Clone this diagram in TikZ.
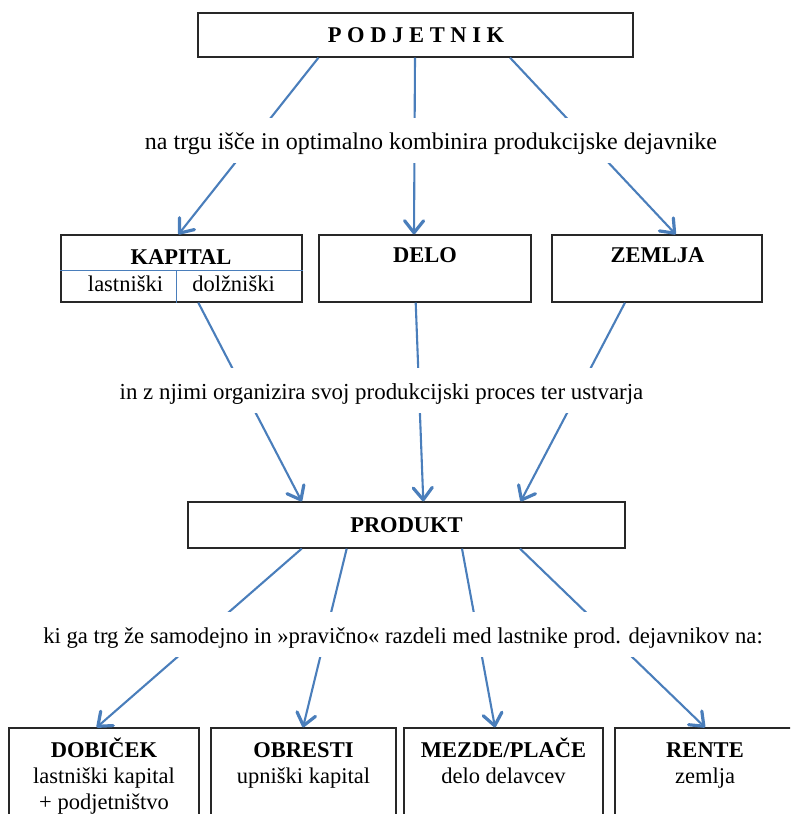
\documentclass[tikz,border=0pt]{standalone}
\usepackage{fontspec}
\setmainfont{Liberation Serif}
\usetikzlibrary{arrows.meta}
\definecolor{arrowblue}{RGB}{74,126,187}
\definecolor{boxline}{RGB}{40,40,40}
\begin{document}
\begin{tikzpicture}[x=1pt,y=-1pt,
  box/.style={draw=boxline,line width=1.3pt,inner sep=0pt},
  conn/.style={draw=arrowblue,line width=2.1pt,-{Straight Barb[length=12pt,width=19pt,line width=3.2pt,round]}},
  divider/.style={draw=arrowblue,line width=1.3pt},
  bt/.style={font=\fontsize{22.5}{27}\selectfont\bfseries,anchor=base,inner sep=0pt},
  nt/.style={font=\fontsize{22.5}{27}\selectfont,anchor=base,inner sep=0pt},
  lt/.style={anchor=base,fill=white,inner xsep=2pt,inner ysep=0pt,text height=31pt,text depth=14pt}]
\useasboundingbox (0,0) rectangle (790,814);
\clip (0,0) rectangle (790,814);
% boxes
\node[box,minimum width=435pt,minimum height=44pt] (podj) at (415.5,35) {};
\node[box,minimum width=241pt,minimum height=67pt] (kap) at (181.5,268.5) {};
\node[box,minimum width=212pt,minimum height=67pt] (delo) at (425,268.5) {};
\node[box,minimum width=210pt,minimum height=67pt] (zem) at (657,268.5) {};
\node[box,minimum width=437pt,minimum height=46pt] (prod) at (406.5,525) {};
\node[box,minimum width=190pt,minimum height=112pt] (dob) at (104,784) {};
\node[box,minimum width=185pt,minimum height=112pt] (obr) at (303.5,784) {};
\node[box,minimum width=199pt,minimum height=112pt] (mez) at (503.5,784) {};
\node[box,minimum width=180pt,minimum height=112pt] (ren) at (705,784) {};
% KAPITAL dividers
\draw[divider] ([yshift=-36pt]kap.north west) -- ([yshift=-36pt]kap.north east);
\draw[divider] ([xshift=116pt]kap.south west) -- ([xshift=116pt,yshift=-36pt]kap.north west);
% connectors
\draw[conn] ([xshift=-97pt]podj.south) -- ([xshift=-3pt]kap.north);
\draw[conn] ([xshift=-0.5pt]podj.south) -- ([xshift=-11pt]delo.north);
\draw[conn] ([xshift=94.5pt]podj.south) -- ([xshift=18.7pt]zem.north);
\draw[conn] ([xshift=16.8pt]kap.south) -- ([xshift=-104.8pt]prod.north);
\draw[conn] ([xshift=-9.3pt]delo.south) -- ([xshift=16.8pt]prod.north);
\draw[conn] ([xshift=-32pt]zem.south) -- ([xshift=114.2pt]prod.north);
\draw[conn] ([xshift=-104.8pt]prod.south) -- ([xshift=-7.3pt]dob.north);
\draw[conn] ([xshift=-59.8pt]prod.south) -- ([xshift=-0.5pt]obr.north);
\draw[conn] ([xshift=55.5pt]prod.south) -- ([xshift=-8.5pt]mez.north);
\draw[conn] ([xshift=113.5pt]prod.south) -- (ren.north);
% line texts
\node[lt,font=\fontsize{24}{28}\selectfont] (l1) at (431,149) {na trgu išče in optimalno kombinira produkcijske dejavnike};
\node[lt,font=\fontsize{22.9}{28}\selectfont] (l2) at (381.5,399) {in z njimi organizira svoj produkcijski proces ter ustvarja};
\node[lt,font=\fontsize{22.7}{28}\selectfont] (l3) at (403,643) {ki ga trg že samodejno in »pravično« razdeli med lastnike prod. dejavnikov na:};
% box texts
\node[bt] (tpodj) at (416,42) {P O D J E T N I K};
\node[bt] (tkap) at (181,264) {KAPITAL};
\node[nt] (tlast) at (125.5,291) {lastniški};
\node[nt] (tdolz) at (233.5,291) {dolžniški};
\node[bt] (tdelo) at (425,262) {DELO};
\node[bt] (tzem) at (657.5,262) {ZEMLJA};
\node[bt] (tprod) at (406.5,532) {PRODUKT};
\node[bt] (tdob) at (104,757) {DOBIČEK};
\node[nt] (tdob2) at (104,783) {lastniški kapital};
\node[nt] (tdob3) at (104,809) {+ podjetništvo};
\node[bt] (tobr) at (303.5,757) {OBRESTI};
\node[nt] (tobr2) at (303.5,783) {upniški kapital};
\node[bt] (tmez) at (503.5,757) {MEZDE/PLAČE};
\node[nt] (tmez2) at (503.5,783) {delo delavcev};
\node[bt] (tren) at (705,757) {RENTE};
\node[nt] (tren2) at (705,783) {zemlja};
\end{tikzpicture}
\end{document}
